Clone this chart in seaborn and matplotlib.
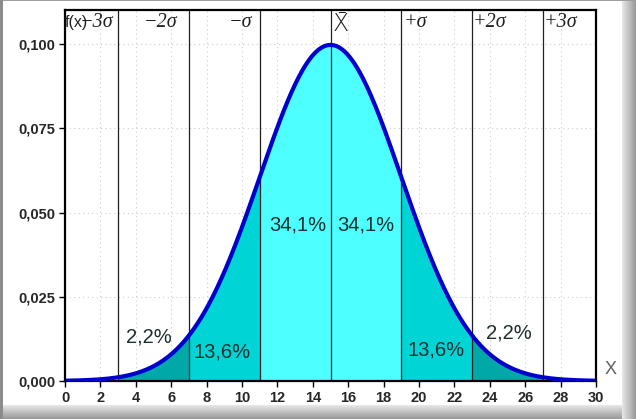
import numpy as np
import matplotlib
matplotlib.use("Agg")
import matplotlib.pyplot as plt
import seaborn as sns

# ---- data ----
mean = 15.0
sigma = 4.0
x_ticks = [0, 2, 4, 6, 8, 10, 12, 14, 16, 18, 20, 22, 24, 26, 28, 30]
y_ticks = [0.000, 0.025, 0.050, 0.075, 0.100]
y_tick_labels = ["0,000", "0,025", "0,050", "0,075", "0,100"]
sigma_bounds = [3, 7, 11, 15, 19, 23, 27]
sigma_labels = ["\u22123\u03c3", "\u22122\u03c3", "\u2212\u03c3", "X\u0304",
                "+\u03c3", "+2\u03c3", "+3\u03c3"]
sigma_label_x = [1.8, 5.4, 9.9, 15.6, 19.8, 24.0, 28.0]
pct_labels = ["2,2%", "13,6%", "34,1%", "34,1%", "13,6%", "2,2%"]
pct_x = [4.75, 8.9, 13.15, 17.0, 20.95, 25.05]
pct_y = [0.0130, 0.0086, 0.0463, 0.0463, 0.0092, 0.0142]

# ---- style ----
sns.set_style("white")
plt.rcParams["font.family"] = ["Liberation Sans", "DejaVu Sans"]

W, H = 636, 419
fig = plt.figure(figsize=(W / 100, H / 100), dpi=100)
fig.patch.set_facecolor("#9a9a9a")

# picture frame with gradient shadow (right and bottom)
bg = fig.add_axes([0, 0, 1, 1], zorder=-10)
bg.set_axis_off()
img = np.full((H, W), 1.0)
inner_r, inner_b = 622, 405
for i in range(W - inner_r):
    img[:, inner_r + i] = 0.90 - 0.32 * i / (W - inner_r)
for j in range(H - inner_b):
    img[inner_b + j, :inner_r] = 0.90 - 0.32 * j / (H - inner_b)
img[:2, :] = 0.62
img[:, :3] = 0.55
bg.imshow(img, cmap="gray", vmin=0, vmax=1, aspect="auto", interpolation="nearest",
          extent=[0, W, H, 0])
bg.set_xlim(0, W)
bg.set_ylim(H, 0)

ax = fig.add_axes([65 / W, (H - 381) / H, (596 - 65) / W, (381 - 10) / H])
ax.set_facecolor("white")

xs = np.linspace(0, 30, 601)
ys = np.exp(-0.5 * ((xs - mean) / sigma) ** 2) / (sigma * np.sqrt(2 * np.pi))

# fills
c_center = "#4dffff"
c_one = "#00d4d4"
c_two = "#00a8a8"
regions = [(3, 7, c_two), (7, 11, c_one), (11, 19, c_center), (19, 23, c_one), (23, 27, c_two)]
for a, b, c in regions:
    m = (xs >= a) & (xs <= b)
    ax.fill_between(xs[m], 0, ys[m], color=c, linewidth=0, zorder=1)

# grid
for xt in x_ticks[1:-1]:
    ax.axvline(xt, color="#cccccc", linestyle=(0, (1, 3)), linewidth=0.8, zorder=0.5)
for yt in y_ticks[1:]:
    ax.axhline(yt, color="#cccccc", linestyle=(0, (1, 3)), linewidth=0.8, zorder=0.5)

# sigma lines
for b in sigma_bounds:
    ax.axvline(b, color="#202020", linewidth=0.9, zorder=2)

sns.lineplot(x=xs, y=ys, ax=ax, color="#0000cc", linewidth=3.0, zorder=3)

ax.set_xlim(0, 30)
ax.set_ylim(0, 0.1101)
ax.set_xticks(x_ticks)
ax.set_xticklabels([str(t) for t in x_ticks], fontsize=10.5, fontweight="bold")
ax.set_yticks(y_ticks)
ax.set_yticklabels(y_tick_labels, fontsize=10.5, fontweight="bold")
ax.tick_params(axis="both", direction="out", length=4, width=1, color="black",
               bottom=True, left=True, pad=3)
for s in ax.spines.values():
    s.set_color("black")
    s.set_linewidth(1.6)
    s.set_visible(True)

# labels
for lx, lab in zip(sigma_label_x, sigma_labels):
    if lab.startswith("X"):
        ax.text(lx, 0.1060, lab, ha="center", va="center", fontsize=17,
                family=["DejaVu Sans"], fontweight="light", color="#202020", zorder=4)
    else:
        ax.text(lx, 0.1063, lab, ha="center", va="center", fontsize=14.5,
                family=["Liberation Serif", "DejaVu Serif"], style="italic",
                color="#202020", zorder=4)
ax.text(0.62, 0.1063, "f(x)", ha="center", va="center", fontsize=11.5, color="#202020", zorder=4)

for px, py, lab in zip(pct_x, pct_y, pct_labels):
    ax.text(px, py, lab, ha="center", va="center", fontsize=14.5, color="#1c2e2e", zorder=4)

fig.text(611 / W, 1 - 369 / H, "X", ha="center", va="center", fontsize=13,
         color="#606060", fontweight="light")

fig.savefig("out.png", dpi=100)
